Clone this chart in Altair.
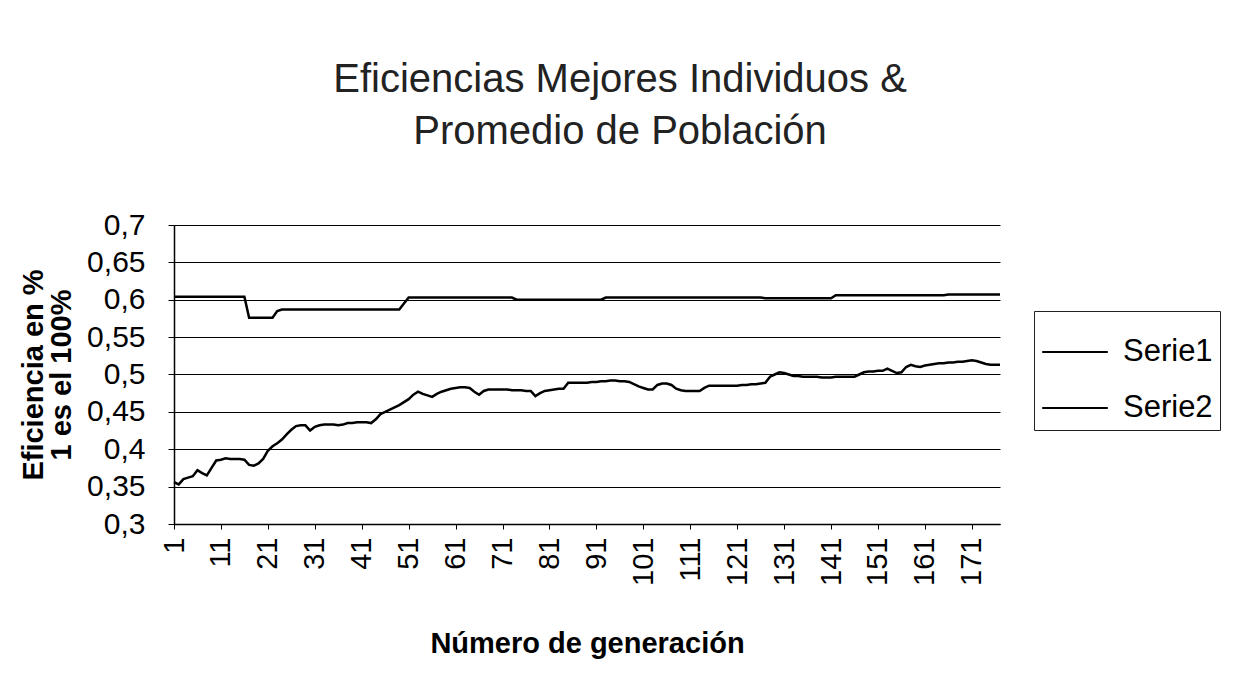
import altair as alt
import pandas as pd

generations = list(range(1, 178))

serie1 = [
    0.604, 0.604, 0.604, 0.604, 0.604, 0.604, 0.604, 0.604, 0.604, 0.604,
    0.604, 0.604, 0.604, 0.604, 0.604, 0.604, 0.576, 0.576, 0.576, 0.576,
    0.576, 0.576, 0.585, 0.587, 0.587, 0.587, 0.587, 0.587, 0.587, 0.587,
    0.587, 0.587, 0.587, 0.587, 0.587, 0.587, 0.587, 0.587, 0.587, 0.587,
    0.587, 0.587, 0.587, 0.587, 0.587, 0.587, 0.587, 0.587, 0.587, 0.595,
    0.603, 0.603, 0.603, 0.603, 0.603, 0.603, 0.603, 0.603, 0.603, 0.603,
    0.603, 0.603, 0.603, 0.603, 0.603, 0.603, 0.603, 0.603, 0.603, 0.603,
    0.603, 0.603, 0.603, 0.600, 0.600, 0.600, 0.600, 0.600, 0.600, 0.600,
    0.600, 0.600, 0.600, 0.600, 0.600, 0.600, 0.600, 0.600, 0.600, 0.600,
    0.600, 0.600, 0.603, 0.603, 0.603, 0.603, 0.603, 0.603, 0.603, 0.603,
    0.603, 0.603, 0.603, 0.603, 0.603, 0.603, 0.603, 0.603, 0.603, 0.603,
    0.603, 0.603, 0.603, 0.603, 0.603, 0.603, 0.603, 0.603, 0.603, 0.603,
    0.603, 0.603, 0.603, 0.603, 0.603, 0.603, 0.602, 0.602, 0.602, 0.602,
    0.602, 0.602, 0.602, 0.602, 0.602, 0.602, 0.602, 0.602, 0.602, 0.602,
    0.602, 0.606, 0.606, 0.606, 0.606, 0.606, 0.606, 0.606, 0.606, 0.606,
    0.606, 0.606, 0.606, 0.606, 0.606, 0.606, 0.606, 0.606, 0.606, 0.606,
    0.606, 0.606, 0.606, 0.606, 0.606, 0.607, 0.607, 0.607, 0.607, 0.607,
    0.607, 0.607, 0.607, 0.607, 0.607, 0.607, 0.607,
]

serie2 = [
    0.356, 0.353, 0.360, 0.362, 0.364, 0.372, 0.368, 0.365, 0.375, 0.385,
    0.386, 0.388, 0.387, 0.387, 0.387, 0.386, 0.379, 0.378, 0.381, 0.387,
    0.398, 0.404, 0.408, 0.413, 0.420, 0.426, 0.431, 0.432, 0.432, 0.425,
    0.430, 0.432, 0.433, 0.433, 0.433, 0.432, 0.433, 0.435, 0.435, 0.436,
    0.436, 0.436, 0.435, 0.440, 0.447, 0.450, 0.453, 0.456, 0.459, 0.463,
    0.467, 0.473, 0.477, 0.474, 0.472, 0.470, 0.474, 0.477, 0.479, 0.481,
    0.482, 0.483, 0.483, 0.482, 0.477, 0.473, 0.478, 0.480, 0.480, 0.480,
    0.480, 0.480, 0.479, 0.479, 0.479, 0.478, 0.478, 0.471, 0.475, 0.478,
    0.479, 0.480, 0.481, 0.481, 0.489, 0.489, 0.489, 0.489, 0.489, 0.490,
    0.490, 0.491, 0.491, 0.492, 0.492, 0.491, 0.491, 0.490, 0.487, 0.484,
    0.482, 0.480, 0.480, 0.486, 0.488, 0.488, 0.486, 0.481, 0.479, 0.478,
    0.478, 0.478, 0.478, 0.482, 0.485, 0.485, 0.485, 0.485, 0.485, 0.485,
    0.485, 0.486, 0.486, 0.487, 0.487, 0.488, 0.489, 0.497, 0.500, 0.503,
    0.502, 0.500, 0.498, 0.498, 0.497, 0.497, 0.497, 0.497, 0.496, 0.496,
    0.496, 0.497, 0.497, 0.497, 0.497, 0.497, 0.500, 0.503, 0.504, 0.504,
    0.505, 0.505, 0.508, 0.505, 0.502, 0.503, 0.510, 0.513, 0.511, 0.510,
    0.512, 0.513, 0.514, 0.515, 0.515, 0.516, 0.516, 0.517, 0.517, 0.518,
    0.519, 0.518, 0.516, 0.514, 0.513, 0.513, 0.513,
]

series_names = ["Serie1", "Serie2"]
x_tick_values = [1, 11, 21, 31, 41, 51, 61, 71, 81, 91, 101, 111, 121, 131, 141, 151, 161, 171]
y_tick_values = [0.3, 0.35, 0.4, 0.45, 0.5, 0.55, 0.6, 0.65, 0.7]

title_lines = ["Eficiencias Mejores Individuos &", "Promedio de Población"]
y_title_lines = ["Eficiencia en %", "1 es el 100%"]
x_title = "Número de generación"

df = pd.concat([
    pd.DataFrame({"gen": generations, "serie": series_names[0], "valor": serie1}),
    pd.DataFrame({"gen": generations, "serie": series_names[1], "valor": serie2}),
])

FONT = "Liberation Sans"

chart = alt.Chart(df).mark_line(strokeWidth=2.5).encode(
    x=alt.X("gen:Q",
            scale=alt.Scale(domain=[1, 177], nice=False, zero=False),
            axis=alt.Axis(values=x_tick_values, labelAngle=-90, grid=False,
                          title=x_title, titleFontWeight="bold", titleFontSize=29,
                          titlePadding=44, labelPadding=8, tickSize=5,
                          labelFontSize=29)),
    y=alt.Y("valor:Q",
            scale=alt.Scale(domain=[0.3, 0.7], nice=False, zero=False),
            axis=alt.Axis(values=y_tick_values,
                          labelExpr="replace(format(datum.value, '.2~f'), '.', ',')",
                          title=y_title_lines, titleFontWeight="bold", titleFontSize=29,
                          titleLineHeight=28, titlePadding=10,
                          grid=True, gridColor="black", gridWidth=1,
                          tickSize=6, labelPadding=23, labelFontSize=30)),
    color=alt.Color("serie:N",
                    scale=alt.Scale(domain=series_names, range=["black", "black"]),
                    legend=alt.Legend(title=None, orient="none", legendX=860, legendY=86,
                                      symbolType="stroke", symbolSize=4300,
                                      symbolStrokeWidth=2, labelFontSize=31,
                                      labelFont=FONT, labelOffset=14, rowPadding=7,
                                      padding=7, strokeColor="#222",
                                      labelColor="black")),
).properties(
    width=826,
    height=299,
    title=alt.TitleParams(text=title_lines, fontSize=40, font=FONT,
                          fontWeight="normal", color="#222", lineHeight=52,
                          anchor="middle", frame="bounds", offset=58),
    padding={"left": 11, "top": 52, "right": 4, "bottom": 10},
).configure_view(
    strokeWidth=0
).configure_axis(
    labelFont=FONT, titleFont=FONT, labelColor="black", titleColor="black",
    domainColor="black", tickColor="black", domainWidth=1.5
)

chart.save("out.html", embed_options={"renderer": "svg", "actions": False})
